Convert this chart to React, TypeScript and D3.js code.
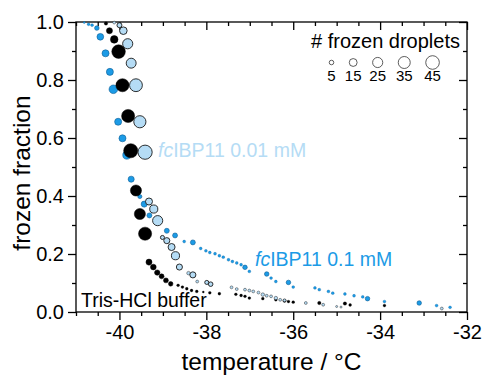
import React, { useRef, useEffect } from 'react'
import * as d3 from 'd3'

// Tris-HCl buffer
const trisTemp = [-40.31, -40.23, -40.12, -40.02, -39.93, -39.8, -39.74, -39.62, -39.53, -39.41, -39.32, -39.22, -39.13, -39.03, -38.93, -38.82, -38.65, -38.55, -38.45, -38.34, -38.22, -38.07, -37.92, -37.7, -37.32, -37.2, -37.11, -37.01, -36.7, -36.4, -36.2, -36.11, -36.0, -35.4, -34.81, -34.69, -33.9]
const trisFrac = [0.995, 0.97, 0.94, 0.898, 0.782, 0.676, 0.556, 0.419, 0.338, 0.27, 0.172, 0.155, 0.136, 0.123, 0.109, 0.097, 0.092, 0.086, 0.08, 0.074, 0.071, 0.069, 0.066, 0.063, 0.061, 0.057, 0.054, 0.048, 0.046, 0.042, 0.039, 0.036, 0.034, 0.031, 0.029, 0.024, 0.022]
const trisCount = [3, 9, 14, 45, 42, 42, 49, 30, 30, 42, 9, 8, 7, 6, 6, 5, 2, 2, 2, 2, 2, 1, 2, 2, 2, 2, 2, 2, 2, 2, 3, 2, 2, 3, 3, 2, 2]

// fcIBP11 0.01 mM
const lowTemp = [-40.12, -40.0, -39.91, -39.81, -39.73, -39.62, -39.53, -39.41, -39.32, -39.21, -39.12, -39.01, -38.91, -38.8, -38.71, -38.62, -38.41, -38.31, -38.21, -37.99, -37.9, -37.42, -37.3, -37.11, -37.01, -36.92, -36.8, -36.7, -36.61, -36.51, -36.4, -36.3, -36.2, -35.71, -35.31, -35.0, -34.9, -32.58]
const lowFrac = [0.998, 0.989, 0.97, 0.925, 0.858, 0.782, 0.656, 0.551, 0.381, 0.355, 0.315, 0.257, 0.246, 0.224, 0.194, 0.155, 0.134, 0.128, 0.105, 0.102, 0.096, 0.085, 0.079, 0.077, 0.074, 0.071, 0.067, 0.06, 0.056, 0.054, 0.048, 0.042, 0.04, 0.031, 0.025, 0.019, 0.017, 0.012]
const lowCount = [2, 6, 14, 25, 24, 40, 36, 49, 12, 16, 25, 4, 9, 12, 16, 9, 3, 9, 2, 4, 5, 2, 2, 2, 2, 2, 2, 3, 2, 2, 3, 2, 2, 2, 2, 1, 1, 2]

// fcIBP11 0.1 mM
const highTemp = [-40.81, -40.71, -40.63, -40.52, -40.44, -40.32, -40.22, -40.14, -40.03, -39.93, -39.83, -39.73, -39.53, -39.43, -39.31, -38.91, -38.72, -38.51, -38.31, -38.13, -38.01, -37.92, -37.8, -37.7, -37.61, -37.49, -37.4, -37.3, -37.2, -37.11, -37.01, -36.61, -36.51, -36.4, -36.11, -36.0, -35.5, -35.4, -35.19, -35.09, -34.81, -34.6, -34.4, -34.29, -33.9, -33.1, -32.7, -32.39]
const highFrac = [0.998, 0.992, 0.989, 0.979, 0.949, 0.892, 0.828, 0.768, 0.656, 0.599, 0.541, 0.458, 0.398, 0.372, 0.333, 0.28, 0.264, 0.243, 0.24, 0.219, 0.211, 0.205, 0.201, 0.194, 0.189, 0.18, 0.174, 0.169, 0.163, 0.154, 0.14, 0.131, 0.117, 0.105, 0.102, 0.086, 0.083, 0.077, 0.071, 0.065, 0.062, 0.056, 0.052, 0.046, 0.036, 0.031, 0.022, 0.016]
const highCount = [1, 2, 2, 5, 11, 12, 12, 18, 12, 12, 16, 9, 4, 9, 6, 6, 6, 2, 6, 2, 2, 2, 2, 2, 2, 2, 2, 2, 2, 5, 2, 5, 2, 2, 5, 2, 2, 2, 2, 2, 2, 2, 2, 5, 2, 5, 2, 2]

const legendCounts = [5, 15, 25, 35, 45]
const xTicks = [-40, -38, -36, -34, -32]
const yTicks = [0, 0.2, 0.4, 0.6, 0.8, 1.0]

const FONT = '"Liberation Sans", Arial, sans-serif'
const LIGHT = '#b5dcf5'
const BLUE = '#1c9be6'

export default function App() {
  const ref = useRef(null)

  useEffect(() => {
    const svg = d3.select(ref.current)
    svg.selectAll('*').remove()

    const left = 76
    const right = 467
    const top = 22
    const bottom = 312

    const x = d3.scaleLinear().domain([-41, -32]).range([left, right])
    const y = d3.scaleLinear().domain([0, 1]).range([bottom, top])
    const r = d3.scaleSqrt().domain([0, 45]).range([0, 6.8])

    const xMinor = d3.range(-41, -31.99, 0.5).filter(v => !xTicks.includes(v))
    const yMinor = d3.range(0.1, 1, 0.2)

    const styleAxis = g => {
      g.select('.domain').remove()
      g.selectAll('line').attr('stroke', '#000').attr('stroke-width', 1.3)
      g.selectAll('text')
        .attr('font-family', FONT)
        .attr('font-size', 20)
        .attr('fill', '#000')
    }

    // bottom + left, ticks outside
    svg.append('g')
      .attr('transform', `translate(0,${bottom})`)
      .call(d3.axisBottom(x).tickValues(xTicks).tickSize(8).tickPadding(5).tickFormat(d => String(d)))
      .call(styleAxis)
    svg.append('g')
      .attr('transform', `translate(0,${bottom})`)
      .call(d3.axisBottom(x).tickValues(xMinor).tickSize(4).tickFormat(() => ''))
      .call(styleAxis)
    svg.append('g')
      .attr('transform', `translate(${left},0)`)
      .call(d3.axisLeft(y).tickValues(yTicks).tickSize(8).tickPadding(4).tickFormat(d3.format('.1f')))
      .call(styleAxis)
    svg.append('g')
      .attr('transform', `translate(${left},0)`)
      .call(d3.axisLeft(y).tickValues(yMinor).tickSize(4).tickFormat(() => ''))
      .call(styleAxis)

    // top + right, ticks inside
    svg.append('g')
      .attr('transform', `translate(0,${top})`)
      .call(d3.axisTop(x).tickValues(xTicks).tickSize(-8).tickFormat(() => ''))
      .call(styleAxis)
    svg.append('g')
      .attr('transform', `translate(0,${top})`)
      .call(d3.axisTop(x).tickValues(xMinor).tickSize(-4).tickFormat(() => ''))
      .call(styleAxis)
    svg.append('g')
      .attr('transform', `translate(${right},0)`)
      .call(d3.axisRight(y).tickValues(yTicks).tickSize(-8).tickFormat(() => ''))
      .call(styleAxis)
    svg.append('g')
      .attr('transform', `translate(${right},0)`)
      .call(d3.axisRight(y).tickValues(yMinor).tickSize(-4).tickFormat(() => ''))
      .call(styleAxis)

    svg.append('rect')
      .attr('x', left)
      .attr('y', top)
      .attr('width', right - left)
      .attr('height', bottom - top)
      .attr('fill', 'none')
      .attr('stroke', '#000')
      .attr('stroke-width', 1.3)

    const series = [
      { name: 'high', temp: highTemp, frac: highFrac, count: highCount, fill: BLUE, stroke: '#0b5d94', sw: 0.6 },
      { name: 'tris', temp: trisTemp, frac: trisFrac, count: trisCount, fill: '#000', stroke: '#000', sw: 0.5 },
      { name: 'low', temp: lowTemp, frac: lowFrac, count: lowCount, fill: LIGHT, stroke: '#1a1a1a', sw: 0.9 },
    ]

    series.forEach(s => {
      const pts = s.temp.map((t, i) => ({ t, f: s.frac[i], n: s.count[i] }))
      svg.append('g')
        .attr('class', s.name)
        .selectAll('circle')
        .data(pts)
        .enter()
        .append('circle')
        .attr('cx', d => x(d.t))
        .attr('cy', d => y(d.f))
        .attr('r', d => r(d.n))
        .attr('fill', s.fill)
        .attr('stroke', s.stroke)
        .attr('stroke-width', d => (d.n <= 3 ? s.sw * 0.5 : s.sw))
    })

    // series labels
    const lab1 = svg.append('text')
      .attr('x', 158)
      .attr('y', 157)
      .attr('font-family', FONT)
      .attr('font-size', 19.5)
      .attr('fill', LIGHT)
    lab1.append('tspan').attr('font-style', 'italic').text('fc')
    lab1.append('tspan').text('IBP11 0.01 mM')

    const lab2 = svg.append('text')
      .attr('x', 255)
      .attr('y', 266)
      .attr('font-family', FONT)
      .attr('font-size', 19.5)
      .attr('fill', BLUE)
    lab2.append('tspan').attr('font-style', 'italic').text('fc')
    lab2.append('tspan').text('IBP11 0.1 mM')

    svg.append('text')
      .attr('x', 81)
      .attr('y', 307)
      .attr('font-family', FONT)
      .attr('font-size', 19.5)
      .attr('fill', '#000')
      .text('Tris-HCl buffer')

    // size legend
    svg.append('text')
      .attr('x', 311)
      .attr('y', 48)
      .attr('font-family', FONT)
      .attr('font-size', 20)
      .attr('fill', '#000')
      .text('# frozen droplets')

    // circles sit side by side with a constant gap between their edges
    const gap = 15.5
    const legX = []
    legendCounts.forEach((n, i) => {
      if (i === 0) legX.push(331.5)
      else legX.push(legX[i - 1] + r(legendCounts[i - 1]) + gap + r(n))
    })
    const leg = svg.append('g')
    leg.selectAll('circle')
      .data(legendCounts)
      .enter()
      .append('circle')
      .attr('cx', (d, i) => legX[i])
      .attr('cy', 62.5)
      .attr('r', d => r(d))
      .attr('fill', 'none')
      .attr('stroke', '#333')
      .attr('stroke-width', 0.8)
    leg.selectAll('text')
      .data(legendCounts)
      .enter()
      .append('text')
      .attr('x', (d, i) => legX[i])
      .attr('y', 81)
      .attr('text-anchor', 'middle')
      .attr('font-family', FONT)
      .attr('font-size', 15)
      .attr('fill', '#000')
      .text(d => d)

    // axis titles
    svg.append('text')
      .attr('x', (left + right) / 2)
      .attr('y', 370)
      .attr('text-anchor', 'middle')
      .attr('font-family', FONT)
      .attr('font-size', 24.5)
      .attr('fill', '#000')
      .text('temperature / °C')

    svg.append('text')
      .attr('transform', `translate(30,${(top + bottom) / 2 + 6}) rotate(-90)`)
      .attr('text-anchor', 'middle')
      .attr('font-family', FONT)
      .attr('font-size', 24.5)
      .attr('fill', '#000')
      .text('frozen fraction')
  }, [])

  return (
    <svg
      ref={ref}
      width={482}
      height={376}
      style={{ position: 'absolute', left: 0, top: 0, background: '#fff' }}
    />
  )
}
